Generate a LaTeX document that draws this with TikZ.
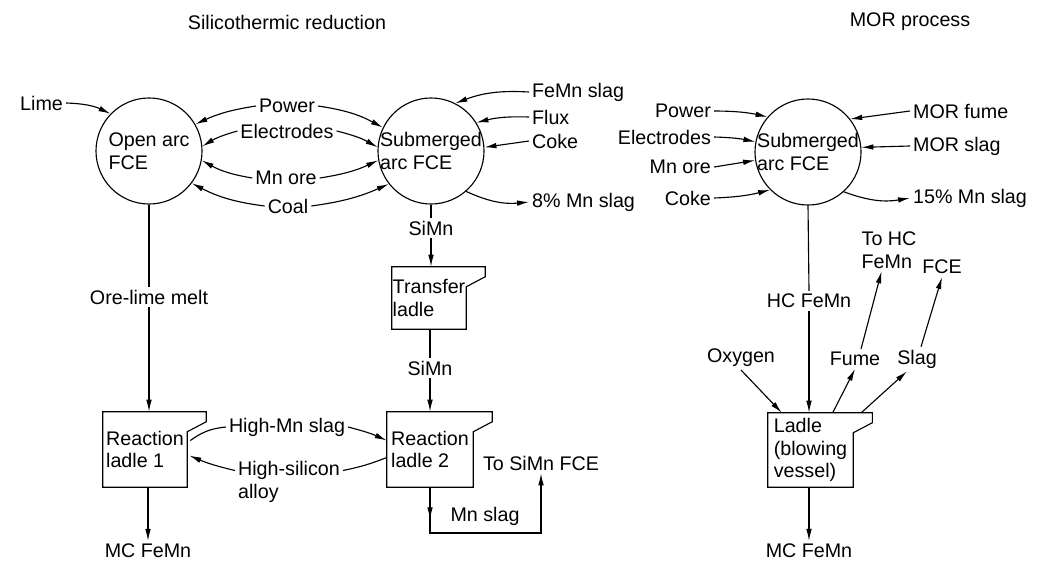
\documentclass[tikz,border=0pt]{standalone}
\usepackage{fontspec}
\setmainfont{Liberation Sans}
\usepackage{tikz}
\usetikzlibrary{arrows.meta,calc}
\tikzset{
  txt/.style={inner sep=2pt,font=\fontsize{14}{16}\selectfont},
  furnace/.style={circle,draw,line width=0.8pt,minimum size=2.65cm,inner sep=0pt},
  ladle/.style={rectangle,align=left,inner sep=0pt,font=\fontsize{14}{16}\selectfont},
  link/.style={line width=0.8pt},
  flow/.style={-{Latex[length=3mm,width=1.4mm]},line width=0.8pt},
}
\newcommand{\ladleoutline}[1]{%
  \draw[link] (#1.south west) -- (#1.north west) -- ([xshift=4.75mm]#1.north east)
    -- ++(0,-2.5mm) -- ([yshift=-5mm]#1.north east) -- (#1.south east) -- cycle;}

\begin{document}
\begin{tikzpicture}[x=0.025cm,y=-0.025cm]
  \useasboundingbox (0,0) rectangle (1056,560);
  \node[txt] (ttlsil) at (287,22) {Silicothermic reduction};
  \node[txt] (ttlmor) at (910,22) {MOR process};

  % furnaces
  \node[furnace,label={[txt,align=left]center:Open arc\\FCE}] (oa) at (149,151) {};
  \node[furnace,label={[txt,align=left]center:Submerged\\arc FCE}] (sa) at (431,151) {};
  \node[furnace,label={[txt,align=left]center:Submerged\\arc FCE}] (ma) at (808,152) {};

  % inputs and outputs, silicothermic side
  \node[txt,anchor=east] (lime) at (66,103) {Lime};
  \node[txt] (pw1) at (287,106) {Power};
  \node[txt] (el1) at (287,131) {Electrodes};
  \node[txt] (ore1) at (286,178) {Mn ore};
  \node[txt] (coal) at (288,206) {Coal};
  \node[txt,anchor=west] (fmslag) at (529,92) {FeMn slag};
  \node[txt,anchor=west] (flux) at (529,117) {Flux};
  \node[txt,anchor=west] (coke1) at (529,141) {Coke};
  \node[txt,anchor=west] (slag8) at (529,202) {8\% Mn slag};

  \node[txt] (olm) at (149,297) {Ore-lime melt};
  \node[txt] (simn1) at (431,228) {SiMn};
  \node[ladle,minimum width=1.85cm,minimum height=1.55cm] (tl) at (429,298) {Transfer\\ladle};
  \node[txt] (simn2) at (430,368) {SiMn};
  \node[ladle,minimum width=2.1cm,minimum height=1.875cm] (rl1) at (145,449.5) {Reaction\\ladle 1};
  \node[ladle,minimum width=2.15cm,minimum height=1.875cm] (rl2) at (430,449.5) {Reaction\\ladle 2};
  \node[txt] (hms) at (287,427) {High-Mn slag};
  \node[txt,align=left] (hsa) at (289,482) {High-silicon\\alloy};
  \node[txt] (mcf1) at (148,551) {MC FeMn};
  \node[txt] (tosimn) at (541,463) {To SiMn FCE};
  \node[txt] (mnslag) at (485,516) {Mn slag};
  \coordinate (msc) at (tosimn.south |- 0,533);

  % inputs and outputs, MOR side
  \node[txt,anchor=east] (pw2) at (714,111) {Power};
  \node[txt,anchor=east] (el2) at (714,137) {Electrodes};
  \node[txt,anchor=east] (ore2) at (714,167) {Mn ore};
  \node[txt,anchor=east] (coke2) at (714,198) {Coke};
  \node[txt,anchor=west] (morfume) at (910,111) {MOR fume};
  \node[txt,anchor=west] (morslag) at (910,146) {MOR slag};
  \node[txt,anchor=west] (slag15) at (910,198) {15\% Mn slag};

  \node[txt] (hcf) at (809,301) {HC FeMn};
  \node[ladle,minimum width=2.125cm,minimum height=1.85cm] (ml) at (810.5,450) {Ladle\\(blowing\\vessel)};
  \node[txt] (oxy) at (741,358) {Oxygen};
  \node[txt] (fume) at (855,359) {Fume};
  \node[txt] (slag) at (917,359) {Slag};
  \node[txt,align=left] (thc) at (889,250) {To HC\\FeMn};
  \node[txt] (fce) at (942,267) {FCE};
  \node[txt] (mcf2) at (809,551) {MC FeMn};

  % ladle outlines
  \ladleoutline{tl}
  \ladleoutline{rl1}
  \ladleoutline{rl2}
  \ladleoutline{ml}

  % open arc furnace
  \draw[flow] (lime.east) to[bend left=12] (oa.136);
  \draw[flow] (pw1.west) to[bend right=8] (oa.30);
  \draw[flow] (el1.west) to[bend right=8] (oa.5);
  \draw[flow] (ore1.west) to[bend left=10] (oa.-10);
  \draw[flow] (coal.west) to[bend left=10] (oa.-37);
  \draw[link] (oa.south) -- (olm.north);
  \draw[flow] (olm.south) -- (olm.south |- rl1.north);
  \draw[flow] (mcf1.north |- rl1.south) -- (mcf1.north);

  % submerged arc furnace (SiMn)
  \draw[flow] (pw1.east) to[bend left=10] (sa.154);
  \draw[flow] (el1.east) to[bend left=8] (sa.176);
  \draw[flow] (ore1.east) to[bend right=8] (sa.190);
  \draw[flow] (coal.east) to[bend right=8] (sa.218);
  \draw[flow] (fmslag.west) to[bend right=12] (sa.63);
  \draw[flow] (flux.west) to[bend right=8] (sa.32);
  \draw[flow] (coke1.west) -- (sa.4);
  \draw[flow] (sa.-49) to[bend right=15] (slag8.west);
  \draw[link] (sa.south) -- (simn1.north);
  \draw[flow] (simn1.south) -- (simn1.south |- tl.north);
  \draw[link] (simn2.north |- tl.south) -- (simn2.north);
  \draw[flow] (simn2.south) -- (simn2.south |- rl2.north);

  % exchange between the reaction ladles
  \draw[link] ($(rl1.east)+(3,-9)$) to[bend left=15] (hms.west);
  \draw[flow] (hms.east) to[bend left=5] ($(rl2.west)+(0,-9)$);
  \draw[link] ($(rl2.west)+(0,8)$) to[bend left=5] ($(hsa.north east)+(0,12)$);
  \draw[flow] ($(hsa.north west)+(0,12)$) to[bend left=5] ($(rl1.east)+(2,6)$);
  \draw[flow] (rl2.south) -- ++(0,32);
  \draw[flow] (rl2.south) -- (rl2.south |- msc) -- (msc) -- (tosimn.south);

  % MOR furnace and blowing vessel
  \draw[flow] (pw2.east) to[bend left=6] (ma.139);
  \draw[flow] (el2.east) to[bend left=5] (ma.169);
  \draw[flow] (ore2.east) -- (ma.189);
  \draw[flow] (coke2.east) to[bend right=6] (ma.225);
  \draw[flow] (morfume.west) -- (ma.38);
  \draw[flow] (morslag.west) -- (ma.5);
  \draw[flow] (ma.-48) to[bend right=15] (slag15.west);
  \draw[link] (ma.south) -- (hcf.north);
  \draw[flow] (hcf.south) -- (hcf.south |- ml.north);
  \draw[flow] (oxy.south) -- ($(ml.north west)+(14,0)$);
  \draw[flow] ($(ml.north west)+(65,0)$) -- (fume.south);
  \draw[flow] ($(ml.north east)+(8,0)$) -- ($(slag.south)+(-10,0)$);
  \draw[flow] ($(fume.north)+(6,0)$) -- ($(thc.south west)+(23,0)$);
  \draw[flow] ($(slag.north)+(4,0)$) -- (fce.south);
  \draw[flow] (mcf2.north |- ml.south) -- (mcf2.north);
\end{tikzpicture}
\end{document}
